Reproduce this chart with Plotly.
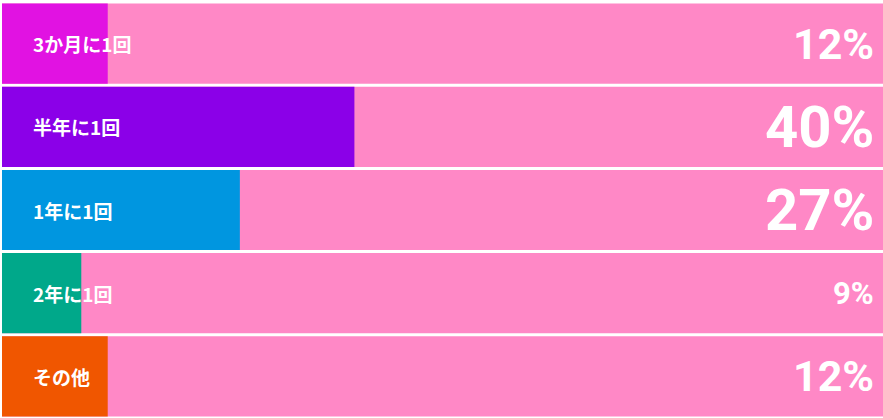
import plotly.graph_objects as go

categories = ["3か月に1回", "半年に1回", "1年に1回", "2年に1回", "その他"]
values = [12, 40, 27, 9, 12]
value_labels = ["12%", "40%", "27%", "9%", "12%"]
colors = ["#e112e2", "#8b00e8", "#0096e0", "#00a88a", "#f05600"]
pct_sizes = [43, 58, 58, 31, 43]
totals = [100, 100, 100, 100, 100]

fig = go.Figure()
fig.add_trace(go.Bar(y=categories, x=totals, orientation="h",
                     marker=dict(color="#ff88c6", line=dict(width=0)),
                     hoverinfo="skip", showlegend=False))
fig.add_trace(go.Bar(y=categories, x=values, orientation="h",
                     marker=dict(color=colors, line=dict(width=0)),
                     showlegend=False))

for cat, lab, sz in zip(categories, value_labels, pct_sizes):
    fig.add_annotation(x=0, xref="paper", y=cat, yref="y", text=cat,
                       showarrow=False, xanchor="left", xshift=29,
                       font=dict(family="Noto Sans CJK JP", size=19, color="white", weight="bold"))
    fig.add_annotation(x=1, xref="paper", y=cat, yref="y", text=lab,
                       showarrow=False, xanchor="right", xshift=-7,
                       font=dict(family="Roboto", size=sz, color="white", weight="bold"))

fig.update_layout(
    width=883, height=418,
    margin=dict(l=2, r=0, t=2, b=0),
    barmode="overlay", bargap=0.036,
    paper_bgcolor="white", plot_bgcolor="white",
    xaxis=dict(range=[0, 100], visible=False, fixedrange=True),
    yaxis=dict(autorange="reversed", visible=False, fixedrange=True),
)
fig.write_html("out.html", config={"displayModeBar": False},
               post_script="document.body.style.margin='0';document.body.style.overflow='hidden';")
